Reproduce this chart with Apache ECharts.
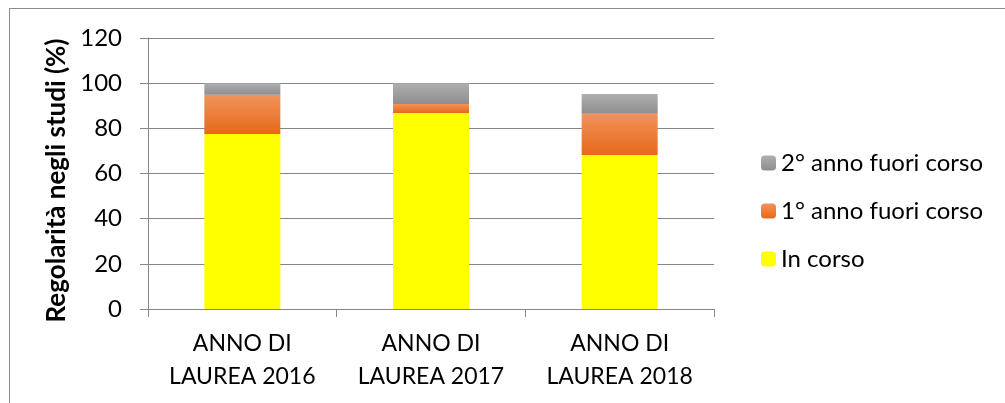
<!DOCTYPE html>
<html>
<head>
<meta charset="utf-8">
<script src="https://cdn.jsdelivr.net/npm/echarts@6/dist/echarts.min.js"></script>
<style>
  html, body { margin: 0; padding: 0; background: #fff; }
  #chart { width: 1005px; height: 403px; }
</style>
</head>
<body>
<div id="chart"></div>
<script>
// categorie e valori (%)
const categories = ['ANNO DI\nLAUREA 2016', 'ANNO DI\nLAUREA 2017', 'ANNO DI\nLAUREA 2018'];
const inCorso = [77.5, 86.8, 68.2];
const fuoriCorso1 = [17.4, 4.0, 18.3];
const fuoriCorso2 = [5.1, 9.2, 8.7];
const legendNames = ['2° anno fuori corso', '1° anno fuori corso', 'In corso'];

const FONT = 'Lato, "Open Sans", sans-serif';

const grad = (top, bottom) => new echarts.graphic.LinearGradient(0, 0, 0, 1, [
  { offset: 0, color: top },
  { offset: 1, color: bottom },
]);

const myChart = echarts.init(document.getElementById('chart'), null, { renderer: 'canvas' });

myChart.setOption({
  animation: false,
  backgroundColor: '#fff',
  textStyle: { fontFamily: FONT, color: '#000' },
  grid: { left: 148, top: 38, right: 291, bottom: 94, containLabel: false },
  legend: {
    orient: 'vertical',
    left: 756,
    top: 146,
    itemWidth: 15,
    itemHeight: 15,
    itemGap: 24,
    data: legendNames,
    textStyle: { fontFamily: FONT, fontSize: 24, color: '#000', lineHeight: 24 },
  },
  xAxis: {
    type: 'category',
    data: categories,
    axisLine: { lineStyle: { color: '#868686', width: 1 } },
    axisTick: { show: true, length: 8, lineStyle: { color: '#868686' } },
    axisLabel: {
      interval: 0,
      hideOverlap: false,
      fontFamily: FONT, fontSize: 23, color: '#000', lineHeight: 33, margin: 18,
    },
  },
  yAxis: {
    type: 'value',
    min: 0,
    max: 120,
    interval: 20,
    name: 'Regolarità negli studi (%)',
    nameLocation: 'middle',
    nameGap: 78,
    nameTextStyle: {
      fontFamily: FONT, fontSize: 26, fontWeight: 'bold', color: '#000',
      padding: [0, 14, 0, 0],
    },
    axisLine: { show: true, lineStyle: { color: '#868686', width: 1 } },
    axisTick: { show: true, length: 8, lineStyle: { color: '#868686' } },
    axisLabel: { fontFamily: FONT, fontSize: 24, color: '#000', margin: 26 },
    splitLine: { lineStyle: { color: '#868686', width: 1 } },
  },
  series: [
    {
      name: 'In corso',
      type: 'bar',
      stack: 'tot',
      barWidth: 76,
      data: inCorso,
      itemStyle: { color: '#FFFF00' },
    },
    {
      name: '1° anno fuori corso',
      type: 'bar',
      stack: 'tot',
      barWidth: 76,
      data: fuoriCorso1,
      itemStyle: { color: grad('#F2935C', '#E6691A') },
    },
    {
      name: '2° anno fuori corso',
      type: 'bar',
      stack: 'tot',
      barWidth: 76,
      data: fuoriCorso2,
      itemStyle: { color: grad('#AFAFAF', '#8E8E8E') },
    },
  ],
  graphic: [
    // cornice del grafico (solo lato superiore e sinistro visibili)
    { type: 'line', shape: { x1: 9, y1: 8.5, x2: 1005, y2: 8.5 }, style: { stroke: '#8c8c8c', lineWidth: 1 }, silent: true },
    { type: 'line', shape: { x1: 9.5, y1: 8, x2: 9.5, y2: 403 }, style: { stroke: '#8c8c8c', lineWidth: 1 }, silent: true },
  ],
});
</script>
</body>
</html>
